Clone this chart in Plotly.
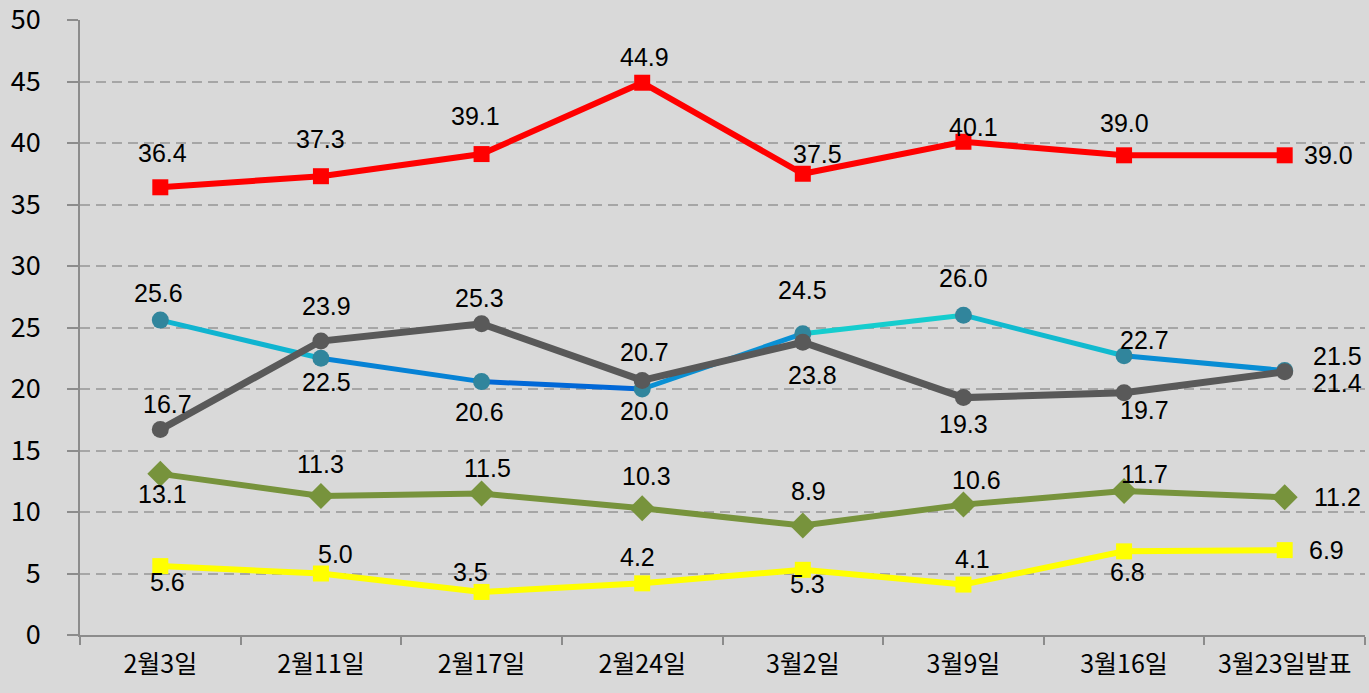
import plotly.graph_objects as go

categories = ["2월3일", "2월11일", "2월17일", "2월24일", "3월2일", "3월9일", "3월16일", "3월23일발표"]
red_vals = [36.4, 37.3, 39.1, 44.9, 37.5, 40.1, 39.0, 39.0]
blue_vals = [25.6, 22.5, 20.6, 20.0, 24.5, 26.0, 22.7, 21.5]
gray_vals = [16.7, 23.9, 25.3, 20.7, 23.8, 19.3, 19.7, 21.4]
green_vals = [13.1, 11.3, 11.5, 10.3, 8.9, 10.6, 11.7, 11.2]
yellow_vals = [5.6, 5.0, 3.5, 4.2, 5.3, 4.1, 6.8, 6.9]
y_ticks = list(range(0, 55, 5))

# label offsets in pixels (dx, dy up) -- styling only
red_off = [(2, 34), (0, 37), (-6, 38), (2, 26), (15, 20), (10, 15), (0, 32), (44, 0)]
blue_off = [(-2, 27), (6, -24), (-2, -30), (2, -22), (0, 44), (0, 37), (20, 16), (53, 15)]
gray_off = [(7, 26), (6, 35), (-2, 26), (2, 28), (10, -33), (0, -26), (20, -17), (53, -11)]
green_off = [(2, -20), (0, 32), (6, 26), (4, 32), (6, 35), (13, 25), (20, 17), (53, 0)]
yellow_off = [(7, -16), (15, 20), (-11, 20), (-5, 26), (5, -14), (9, 26), (3, -21), (42, 0)]

BG = "#d9d9d9"
LABEL_FONT = dict(family="Liberation Sans, Arial", size=25, color="#000000")

fig = go.Figure()


def lerp_color(c1, c2, t):
    t = max(0.0, min(1.0, t))
    a = [int(c1[i:i + 2], 16) for i in (1, 3, 5)]
    b = [int(c2[i:i + 2], 16) for i in (1, 3, 5)]
    return "#%02x%02x%02x" % tuple(round(a[k] + (b[k] - a[k]) * t) for k in range(3))


# blue series: segment colors follow vertical gradient (blue low -> cyan high)
for i in range(len(categories) - 1):
    mean = (blue_vals[i] + blue_vals[i + 1]) / 2
    col = lerp_color("#0062d8", "#18dccc", (mean - 20.0) / 6.0)
    fig.add_trace(go.Scatter(x=categories[i:i + 2], y=blue_vals[i:i + 2], mode="lines",
                             line=dict(color=col, width=5), showlegend=False, hoverinfo="skip",
                             cliponaxis=False))
fig.add_trace(go.Scatter(x=categories, y=blue_vals, mode="markers",
                         marker=dict(symbol="circle", size=17, color="#31859c"), showlegend=False))

fig.add_trace(go.Scatter(x=categories, y=gray_vals, mode="lines+markers",
                         line=dict(color="#595959", width=7),
                         marker=dict(symbol="circle", size=17, color="#595959"), showlegend=False))
fig.add_trace(go.Scatter(x=categories, y=green_vals, mode="lines+markers",
                         line=dict(color="#77933c", width=6),
                         marker=dict(symbol="diamond", size=20, color="#77933c"), showlegend=False))
fig.add_trace(go.Scatter(x=categories, y=yellow_vals, mode="lines+markers",
                         line=dict(color="#ffff00", width=6),
                         marker=dict(symbol="square", size=16, color="#ffff00"), showlegend=False))
fig.add_trace(go.Scatter(x=categories, y=red_vals, mode="lines+markers",
                         line=dict(color="#ff0000", width=6),
                         marker=dict(symbol="square", size=16, color="#ff0000"), showlegend=False))

annotations = []
for vals, offs in [(red_vals, red_off), (blue_vals, blue_off), (gray_vals, gray_off),
                   (green_vals, green_off), (yellow_vals, yellow_off)]:
    for c, v, (dx, dy) in zip(categories, vals, offs):
        annotations.append(dict(x=c, y=v, text=f"{v:.1f}", showarrow=False,
                                xshift=dx, yshift=dy, font=LABEL_FONT,
                                xanchor="center", yanchor="middle"))

fig.update_layout(
    width=1369, height=693,
    margin=dict(l=80, r=4, t=20, b=58, autoexpand=False),
    paper_bgcolor=BG, plot_bgcolor=BG,
    annotations=annotations,
    showlegend=False,
)
fig.update_xaxes(
    type="category", range=[-0.5, 7.5], tickson="boundaries",
    ticks="outside", ticklen=8, tickwidth=1.5, tickcolor="#8c8c8c",
    showline=True, linecolor="#8c8c8c", linewidth=1.5,
    showgrid=False, zeroline=False, automargin=False,
    tickfont=dict(family="Noto Sans CJK KR", size=25, color="#000000"),
    ticklabelstandoff=6,
)
fig.update_yaxes(
    range=[0, 50], tickvals=y_ticks,
    ticks="outside", ticklen=11, tickwidth=1.5, tickcolor="#8c8c8c",
    showline=True, linecolor="#8c8c8c", linewidth=1.5,
    showgrid=True, gridcolor="#a6a6a6", gridwidth=1.5, griddash="10px,6px",
    zeroline=False, automargin=False, ticklabeloverflow="allow",
    tickfont=dict(family="Noto Sans CJK KR", size=27, color="#000000"),
    ticklabelstandoff=21,
)

fig.write_html("out.html", config={"displayModeBar": False},
               post_script="document.body.style.margin='0';document.body.style.background='#d9d9d9';")
